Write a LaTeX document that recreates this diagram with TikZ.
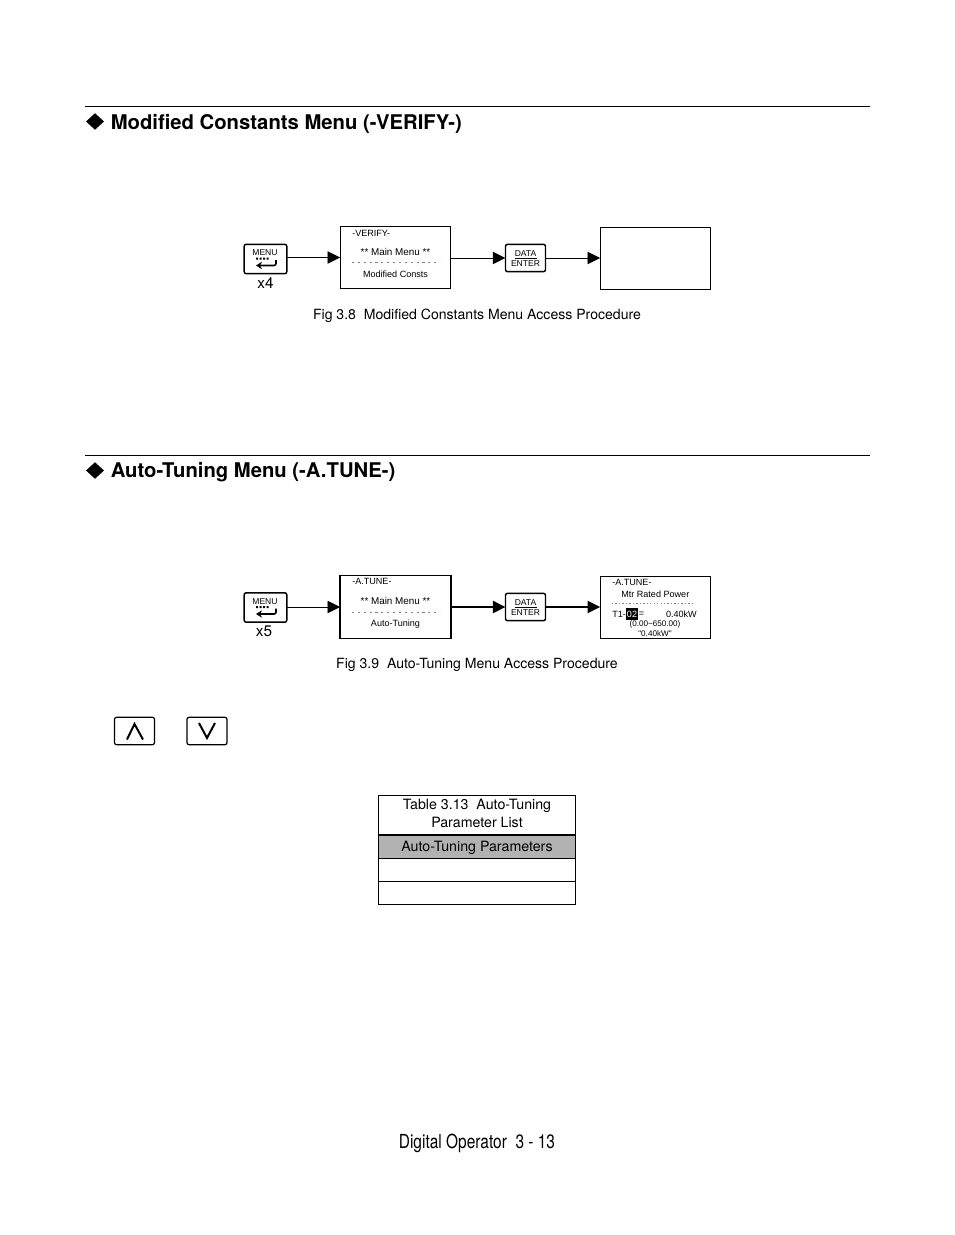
\documentclass[tikz,border=0pt]{standalone}
\usepackage{fontspec}
\setmainfont{TeX Gyre Heros}
\newfontfamily\lcdfont{Liberation Sans}
\newfontfamily\pagefont[FakeStretch=0.8]{TeX Gyre Heros}
\usetikzlibrary{arrows.meta,shapes.geometric}
\tikzset{
  screenbox/.style={draw,line width=0.8pt,minimum width=83pt,minimum height=47pt,inner sep=0pt,outer sep=0pt},
  keybox/.style={draw,line width=1.1pt,rounded corners=1.5pt,inner sep=0pt,outer sep=0pt},
  lcdtext/.style={font=\lcdfont\fontsize{6.8pt}{7pt}\selectfont,inner sep=0pt},
  keytext/.style={font=\lcdfont\fontsize{6.4pt}{7pt}\selectfont,inner sep=0pt},
  menutext/.style={font=\lcdfont\fontsize{7.4pt}{8pt}\selectfont,inner sep=0pt},
  smalltext/.style={font=\lcdfont\fontsize{6.1pt}{7pt}\selectfont,inner sep=0pt},
  countext/.style={font=\fontsize{11.5pt}{13pt}\selectfont,inner sep=0pt},
  flowarrow/.style={-{Triangle[length=9.5pt,width=9.2pt]},line width=0.7pt},
  headtext/.style={font=\bfseries\fontsize{15.2pt}{18pt}\selectfont,anchor=west,inner sep=0pt},
  headmark/.style={diamond,fill=black,inner sep=0pt,minimum width=13.7pt,minimum height=12.5pt},
  captext/.style={font=\fontsize{10.55pt}{12pt}\selectfont,inner sep=0pt},
  rowbox/.style={draw,line width=0.6pt,minimum width=147.5pt,inner sep=0pt,outer sep=0pt,font=\fontsize{10.65pt}{13.5pt}\selectfont,align=center},
  dashrule/.style={gray,line width=0.6pt,dash pattern=on 1.6pt off 2.8pt},
}
\begin{document}
\begin{tikzpicture}[x=0.75pt,y=0.75pt,yscale=-1,xscale=1]
\useasboundingbox (0,0) rectangle (954,1235);

% Heading 1
\coordinate (ruleAl) at (85,106.5);
\coordinate (ruleAr) at (870,106.5);
\draw [line width=0.6pt] (ruleAl) -- (ruleAr);
\node [headmark] (markA) at (95,121.5) {};
\node [headtext] (headA) at (110.5,123.5) {Modified Constants Menu (-VERIFY-)};

% Text Node
\node [keybox,minimum width=32pt,minimum height=22pt] (menuA) at (265.5,259) {};
\node [keytext] (menuAt) at (265,253) {MENU};
\node [countext] (countA) at (265.5,283) {x4};
\fill (256,257.5) rectangle (258,259.5) (259.5,257.5) rectangle (261.5,259.5) (263,257.5) rectangle (265,259.5) (266.5,257.5) rectangle (268.5,259.5);
\draw [line width=1.2pt,rounded corners=1.5pt,-{Stealth[length=4.5pt,width=5.5pt]}] (276,260) -- (276,265.5) -- (256,265.5);

\node [screenbox] (verify) at (395.5,257.5) {};
\node [lcdtext,anchor=west] (verifyA) at (352,233) {-VERIFY-};
\node [menutext] (verifyB) at (395.5,252) {** Main Menu **};
\draw [dashrule] (352,262) -- (440,262);
\node [lcdtext] (verifyC) at (395.5,274) {Modified Consts};

\node [keybox,minimum width=30pt,minimum height=20.5pt] (dataA) at (525.5,258) {};
\node [keytext] (dataAt) at (525.5,253.5) {DATA};
\draw [line width=0.5pt] (514.5,258) -- (536.5,258);
\node [keytext] (dataAb) at (525.5,264) {ENTER};

\node [screenbox] (blank) at (655.5,258.5) {};

%Straight Lines
\draw [flowarrow] (menuA.east |- verify.west) -- (verify.west);
\draw [flowarrow] (verify.east |- dataA.west) -- (dataA.west);
\draw [flowarrow] (dataA.east) -- (dataA.east -| blank.west);

\node [captext] (capA) at (477,316) {Fig 3.8\ \ Modified Constants Menu Access Procedure};

% Heading 2
\coordinate (ruleBl) at (85,455.5);
\coordinate (ruleBr) at (870,455.5);
\draw [line width=0.6pt] (ruleBl) -- (ruleBr);
\node [headmark] (markB) at (95,470.5) {};
\node [headtext] (headB) at (110.5,472.5) {Auto-Tuning Menu (-A.TUNE-)};

% Text Node
\node [keybox,minimum width=32pt,minimum height=22pt] (menuB) at (265.5,607.5) {};
\node [keytext] (menuBt) at (265,602) {MENU};
\node [countext] (countB) at (264,631.5) {x5};
\fill (256,606) rectangle (258,608) (259.5,606) rectangle (261.5,608) (263,606) rectangle (265,608) (266.5,606) rectangle (268.5,608);
\draw [line width=1.2pt,rounded corners=1.5pt,-{Stealth[length=4.5pt,width=5.5pt]}] (276,608.5) -- (276,614) -- (256,614);

\node [screenbox,line width=1.1pt] (atune) at (395.5,607) {};
\node [lcdtext,anchor=west] (atuneA) at (352,581.5) {-A.TUNE-};
\node [menutext] (atuneB) at (395.5,601) {** Main Menu **};
\draw [dashrule] (352,612) -- (440,612);
\node [lcdtext] (atuneC) at (395.5,624) {Auto-Tuning};

\node [keybox,minimum width=30pt,minimum height=20.5pt] (dataB) at (525.5,607) {};
\node [keytext] (dataBt) at (525.5,602.5) {DATA};
\draw [line width=0.5pt] (514.5,607) -- (536.5,607);
\node [keytext] (dataBb) at (525.5,613) {ENTER};

\node [screenbox] (rated) at (655.5,607.5) {};
\node [lcdtext,anchor=west] (ratedA) at (612,582.5) {-A.TUNE-};
\node [lcdtext,anchor=west] (ratedB) at (621,594) {Mtr Rated Power};
\draw [dashrule,dash pattern=on 1pt off 1.6pt] (612,603.5) -- (695,603.5);
\node [lcdtext,anchor=west] (ratedC) at (612,614) {T1-};
\node [fill=black,text=white,lcdtext,minimum width=8.5pt,minimum height=9pt] (ratedD) at (632,614) {02};
\node [lcdtext,anchor=west] (ratedE) at (638.5,614) {=};
\node [lcdtext,anchor=east] (ratedF) at (697,614) {0.40kW};
\node [smalltext] (ratedG) at (655,624) {(0.00\textasciitilde 650.00)};
\node [smalltext] (ratedH) at (655,633.5) {"0.40kW"};

%Straight Lines
\draw [flowarrow] (menuB.east |- atune.west) -- (atune.west);
\draw [flowarrow,line width=1.2pt] (atune.east |- dataB.west) -- (dataB.west);
\draw [flowarrow,line width=1.2pt] (dataB.east) -- (dataB.east -| rated.west);

\node [captext] (capB) at (477,664.5) {Fig 3.9\ \ Auto-Tuning Menu Access Procedure};

% Up and down keys
\node [keybox,line width=0.9pt,minimum width=30pt,minimum height=20.5pt] (upkey) at (134.5,731) {};
\draw [line width=1.5pt] (127,739.5) -- (upkey.center |- 0,724) -- (143,739.5);
\node [keybox,line width=0.9pt,minimum width=30pt,minimum height=20.5pt] (downkey) at (207,731) {};
\draw [line width=1.5pt] (199,723) -- (downkey.center |- 0,738) -- (215,723);

% Table
\node [rowbox,minimum height=29.5pt] (rowA) at (477,815) {};
\node [inner sep=0pt,align=center,font=\fontsize{10.65pt}{13.5pt}\selectfont] (rowAt) at (477,813.5) {Table 3.13\ \ Auto-Tuning\\Parameter List};
\node [rowbox,fill=black!30,minimum height=17.25pt] (rowB) at (477,846.5) {};
\node [inner sep=0pt,font=\fontsize{10.65pt}{13.5pt}\selectfont] (rowBt) at (477,848) {Auto-Tuning Parameters};
\node [rowbox,minimum height=17.25pt] (rowC) at (477,869.5) {};
\node [rowbox,minimum height=17.25pt] (rowD) at (477,893) {};
\draw [line width=1.1pt] (rowA.north west) rectangle (rowD.south east);
\draw [line width=0.8pt] (rowA.south west) -- (rowA.south east);

% Page number
\node [font=\pagefont\fontsize{14.5pt}{16pt}\selectfont,inner sep=0pt] (pageno) at (477,1143.5) {Digital Operator\ \ 3 - 13};

\end{tikzpicture}
\end{document}
